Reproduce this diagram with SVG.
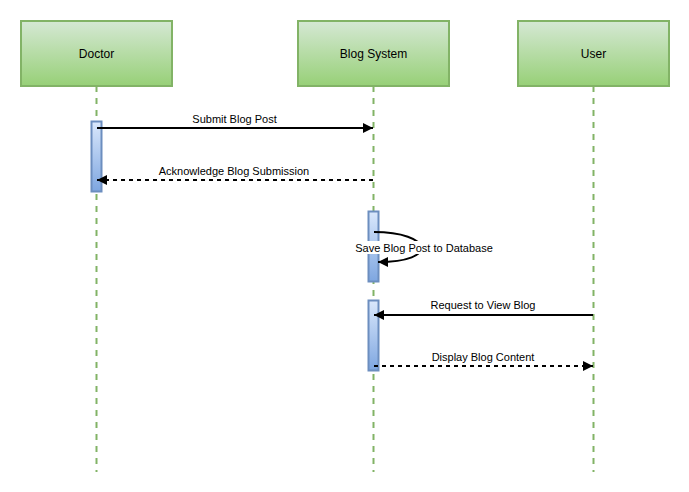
<svg xmlns="http://www.w3.org/2000/svg" width="689" height="492" viewBox="0 0 689 492">
  <style>
    .actor { fill: url(#gGreen); stroke: #82b366; stroke-width: 2; }
    .actor-label { font-family: "Liberation Sans", Arial, sans-serif; font-size: 12px; fill: #000; text-anchor: middle; dominant-baseline: central; }
    .lifeline { stroke: #82b366; stroke-width: 2; stroke-dasharray: 6 6; fill: none; }
    .act { fill: url(#gBlue); stroke: #6c8ebf; stroke-width: 2; }
    .msg { stroke: #000; stroke-width: 2; fill: none; }
    .ret { stroke: #000; stroke-width: 2; fill: none; stroke-dasharray: 4 4; }
    .msg-label { font-family: "Liberation Sans", Arial, sans-serif; font-size: 11px; fill: #000; text-anchor: middle; dominant-baseline: central; }
    .label-bg { fill: #fff; }
  </style>
  <defs>
    <linearGradient id="gGreen" x1="0" y1="0" x2="0" y2="1">
      <stop offset="0" stop-color="#d5e8d4"/>
      <stop offset="1" stop-color="#97d077"/>
    </linearGradient>
    <linearGradient id="gBlue" x1="0" y1="0" x2="0" y2="1">
      <stop offset="0" stop-color="#dae8fc"/>
      <stop offset="1" stop-color="#7ea6e0"/>
    </linearGradient>
    <marker id="arrow" viewBox="0 0 10 10" refX="10" refY="5" markerWidth="5.5" markerHeight="5" markerUnits="strokeWidth" orient="auto">
      <path d="M0,0 L10,5 L0,10 Z" fill="#000"/>
    </marker>
  </defs>

  <rect width="689" height="492" fill="#fff"/>

  <!-- lifelines -->
  <g id="lifelines">
    <line class="lifeline" x1="96.5" y1="86" x2="96.5" y2="472"/>
    <line class="lifeline" x1="373.5" y1="86" x2="373.5" y2="472"/>
    <line class="lifeline" x1="593.5" y1="86" x2="593.5" y2="472"/>
  </g>

  <!-- participants -->
  <g id="doctor">
    <rect class="actor" x="21" y="21" width="151" height="65"/>
    <text class="actor-label" x="96.5" y="53.5">Doctor</text>
  </g>
  <g id="blog-system">
    <rect class="actor" x="298" y="21" width="151" height="65"/>
    <text class="actor-label" x="373.5" y="53.5">Blog System</text>
  </g>
  <g id="user">
    <rect class="actor" x="518" y="21" width="151" height="65"/>
    <text class="actor-label" x="593.5" y="53.5">User</text>
  </g>

  <!-- activation bars -->
  <g id="activation-doctor">
    <rect class="act" x="91.5" y="121.5" width="10" height="70"/>
  </g>
  <g id="activation-save">
    <rect class="act" x="368.5" y="211.5" width="10" height="70"/>
  </g>
  <g id="activation-view">
    <rect class="act" x="368.5" y="300.5" width="10" height="70"/>
  </g>

  <!-- messages -->
  <g id="connectors">
    <line class="msg" x1="97" y1="128" x2="373" y2="128" marker-end="url(#arrow)"/>
    <rect class="label-bg" x="190" y="112" width="88" height="13"/>
    <text class="msg-label" x="234.5" y="118.5">Submit Blog Post</text>

    <line class="ret" x1="373" y1="180" x2="97" y2="180" marker-end="url(#arrow)"/>
    <rect class="label-bg" x="157" y="164" width="154" height="13"/>
    <text class="msg-label" x="234" y="170.5">Acknowledge Blog Submission</text>

    <path class="msg" d="M374,232 C432,232 440,262 378,262" marker-end="url(#arrow)"/>
    <rect class="label-bg" x="355" y="241" width="139" height="13"/>
    <text class="msg-label" x="424" y="247.5">Save Blog Post to Database</text>

    <line class="msg" x1="593" y1="315" x2="374" y2="315" marker-end="url(#arrow)"/>
    <rect class="label-bg" x="428" y="298" width="110" height="13"/>
    <text class="msg-label" x="483" y="304.5">Request to View Blog</text>

    <line class="ret" x1="374" y1="366" x2="593" y2="366" marker-end="url(#arrow)"/>
    <rect class="label-bg" x="430" y="350" width="107" height="13"/>
    <text class="msg-label" x="483" y="356.5">Display Blog Content</text>
  </g>
</svg>
